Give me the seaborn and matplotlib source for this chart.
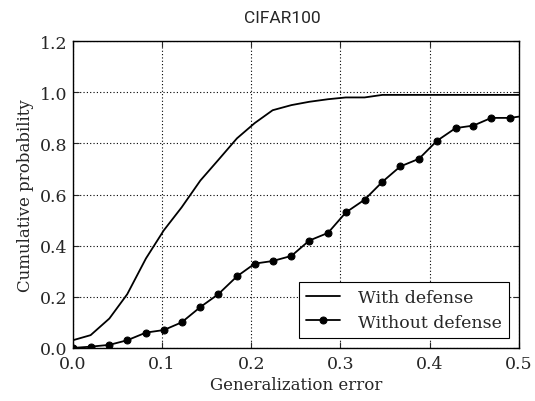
import numpy as np
import pandas as pd
import seaborn as sns
import matplotlib
from matplotlib import pyplot as plt

# generalization error grid (1/49 steps, axis cut at 0.5)
gen_error = [0.000, 0.020, 0.041, 0.061, 0.082, 0.102, 0.122, 0.143, 0.163,
             0.184, 0.204, 0.224, 0.245, 0.265, 0.286, 0.306, 0.327, 0.347,
             0.367, 0.388, 0.408, 0.429, 0.449, 0.469, 0.490, 0.510]

with_defense = [0.03, 0.05, 0.115, 0.21, 0.35, 0.46, 0.55, 0.655, 0.735,
                0.82, 0.88, 0.93, 0.95, 0.963, 0.973, 0.98, 0.98, 0.99,
                0.99, 0.99, 0.99, 0.99, 0.99, 0.99, 0.99, 0.99]

without_defense = [0.0, 0.005, 0.012, 0.03, 0.06, 0.07, 0.10, 0.16, 0.21,
                   0.28, 0.33, 0.34, 0.36, 0.42, 0.45, 0.53, 0.58, 0.65,
                   0.71, 0.74, 0.81, 0.86, 0.87, 0.90, 0.90, 0.91]

sns.set_style('ticks')
matplotlib.rcParams.update({
    'font.family': 'DejaVu Serif',
    'font.size': 12,
    'xtick.direction': 'in',
    'ytick.direction': 'in',
    'xtick.top': True,
    'ytick.right': True,
    'xtick.major.size': 4,
    'ytick.major.size': 4,
    'axes.edgecolor': 'black',
    'axes.linewidth': 1.0,
})

df = pd.DataFrame({'err': gen_error, 'with': with_defense, 'without': without_defense})

fig = plt.figure(figsize=(5.35, 4.02), dpi=100)
ax = fig.add_axes([0.136, 0.132, 0.834, 0.763])

sns.lineplot(data=df, x='err', y='with', color='black', lw=1.3,
             label='With defense', ax=ax)
sns.lineplot(data=df, x='err', y='without', color='black', lw=1.3,
             marker='o', markersize=5, markeredgecolor='black',
             label='Without defense', ax=ax)

ax.set_xlim(0, 0.5)
ax.set_ylim(0, 1.2)
ax.set_xticks([0.0, 0.1, 0.2, 0.3, 0.4, 0.5])
ax.set_yticks([0.0, 0.2, 0.4, 0.6, 0.8, 1.0, 1.2])
ax.grid(True, color='black', linestyle=(0, (1, 2)), linewidth=0.8)
ax.tick_params(axis='both', labelsize=12.5)
ax.tick_params(axis='x', pad=5)
ax.tick_params(axis='y', pad=4)
ax.set_xlabel('Generalization error', fontsize=12, labelpad=3)
ax.set_ylabel('Cumulative probability', fontsize=12, labelpad=4)

leg = ax.legend(loc='lower right', fontsize=12.5, fancybox=False,
                edgecolor='black', framealpha=1, borderaxespad=0.6,
                handlelength=2.0, handletextpad=1.0, labelspacing=0.45)
leg.get_frame().set_linewidth(0.8)

fig.text(0.528, 0.955, 'CIFAR100', family='Roboto', fontsize=12.5,
         ha='center', va='center')

plt.savefig('out.png', dpi=100)
